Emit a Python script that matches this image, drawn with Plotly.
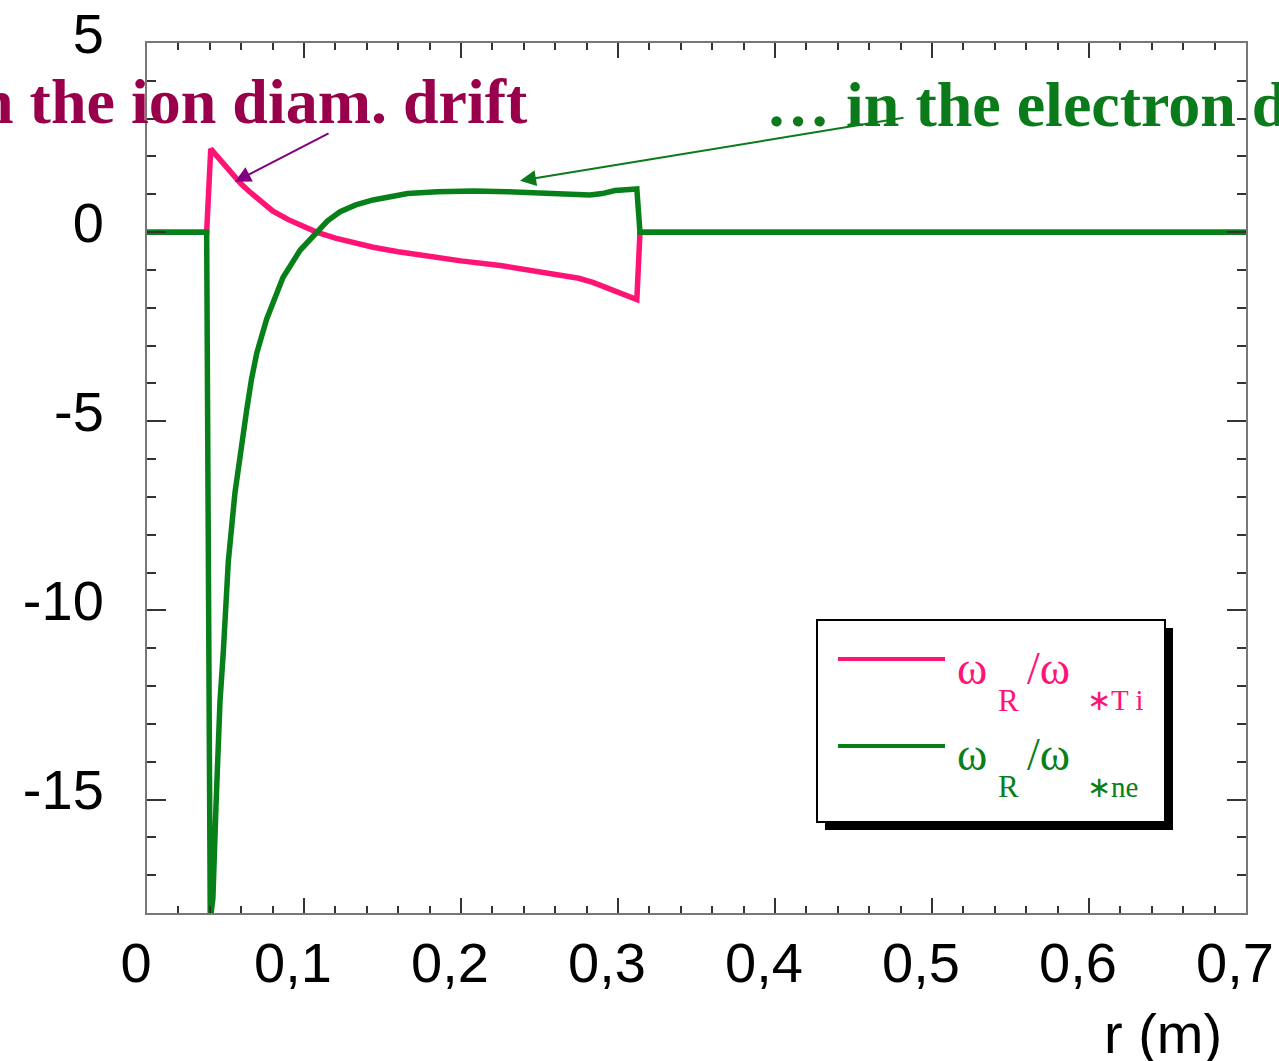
import plotly.graph_objects as go

# ---------------- data ----------------
r_ti = [0, 0.038, 0.0406, 0.045, 0.05, 0.055, 0.06, 0.065, 0.07, 0.075, 0.08, 0.09,
        0.1, 0.108, 0.12, 0.13, 0.144, 0.16, 0.175, 0.187, 0.2, 0.225, 0.25, 0.263,
        0.275, 0.284, 0.295, 0.305, 0.312, 0.314, 0.7]
w_ti = [0, 0, 2.2, 1.98, 1.74, 1.5, 1.27, 1.08, 0.9, 0.72, 0.56, 0.33,
        0.14, 0.0, -0.16, -0.27, -0.40, -0.52, -0.61, -0.69, -0.76, -0.88, -1.04, -1.15,
        -1.22, -1.33, -1.52, -1.66, -1.78, 0, 0]

r_ne = [0, 0.038, 0.0403, 0.042, 0.044, 0.0465, 0.0486, 0.0518, 0.056, 0.0592, 0.0635,
        0.0665, 0.0699, 0.0762, 0.081, 0.0866, 0.0975, 0.108, 0.115, 0.123, 0.133, 0.144,
        0.155, 0.166, 0.185, 0.208, 0.23, 0.25, 0.265, 0.282, 0.29, 0.298, 0.305, 0.312,
        0.314, 0.7]
w_ne = [0, 0, -18.2, -17.6, -15.1, -12.4, -11.1, -8.7, -6.9, -5.9, -4.7,
        -3.9, -3.2, -2.3, -1.75, -1.2, -0.48, 0.0, 0.3, 0.54, 0.72, 0.85,
        0.95, 1.02, 1.07, 1.09, 1.07, 1.04, 1.03, 0.98, 1.02, 1.1, 1.12, 1.14,
        0, 0]

x_tickvals = [0, 0.1, 0.2, 0.3, 0.4, 0.5, 0.6, 0.7]
x_ticktext = ["0", "0,1", "0,2", "0,3", "0,4", "0,5", "0,6", "0,7"]
y_tickvals = [5, 0, -5, -10, -15]
y_ticktext = ["5", "0", "-5", "-10", "-15"]

# annotation arrows (data coords): tip and tail
ion_arrow_tip, ion_arrow_tail = (0.056, 1.33), (0.1166, 2.63)
ele_arrow_tip, ele_arrow_tail = (0.2376, 1.36), (0.4828, 3.03)

PINK = "#FF1476"
GREEN = "#08801A"
TXT_PINK = "#99004C"
TXT_GREEN = "#0A7A1A"

# ---------------- figure ----------------
L, T, W, H = 147, 43, 1099, 870


def px(x):
    return (x - L) / W


def py(y):
    return (T + H - y) / H


fig = go.Figure()
fig.add_trace(go.Scatter(x=r_ti, y=w_ti, mode="lines", line=dict(color=PINK, width=5.5),
                         showlegend=False))
fig.add_trace(go.Scatter(x=r_ne, y=w_ne, mode="lines", line=dict(color=GREEN, width=5.5),
                         showlegend=False))

tickfont = dict(family="Liberation Sans, Arial", size=56, color="black")
fig.update_xaxes(range=[0, 0.7], tickmode="array", tickvals=x_tickvals, ticktext=x_ticktext,
                 ticks="inside", ticklen=15, tickwidth=2, tickcolor="#333",
                 minor=dict(ticks="inside", dtick=0.02, tick0=0, ticklen=7, tickwidth=1.5,
                            tickcolor="#333", showgrid=False),
                 showline=True, linecolor="#777", linewidth=2, mirror="allticks",
                 showgrid=False, zeroline=False, tickfont=tickfont, automargin=False,
                 ticklabelshift=-11, ticklabelstandoff=0)
fig.update_yaxes(range=[-18, 5], tickmode="array", tickvals=y_tickvals, ticktext=y_ticktext,
                 ticks="inside", ticklen=19, tickwidth=2, tickcolor="#333",
                 minor=dict(ticks="inside", dtick=1, tick0=0, ticklen=9, tickwidth=1.5,
                            tickcolor="#333", showgrid=False),
                 showline=True, linecolor="#777", linewidth=2, mirror="allticks",
                 showgrid=False, zeroline=False, tickfont=tickfont, automargin=False,
                 ticklabelshift=-10, ticklabelstandoff=30)

serif_b = "Liberation Serif, Times New Roman"
ann = []
ann.append(dict(xref="paper", yref="paper", x=px(530), y=py(102), xanchor="right",
                yanchor="middle", showarrow=False,
                text="<b>Rotation in the ion diam. drift</b>",
                font=dict(family=serif_b, size=64, color=TXT_PINK)))
ann.append(dict(xref="paper", yref="paper", x=px(764), y=py(104), xanchor="left",
                yanchor="middle", showarrow=False,
                text="<b>\u2026 in the electron diam. drift</b>",
                font=dict(family=serif_b, size=64, color=TXT_GREEN)))
ann.append(dict(xref="x", yref="y", axref="x", ayref="y",
                x=ion_arrow_tip[0], y=ion_arrow_tip[1],
                ax=ion_arrow_tail[0], ay=ion_arrow_tail[1],
                text="", showarrow=True, arrowhead=2, arrowsize=1.6, arrowwidth=2,
                arrowcolor="#800080", standoff=0, startstandoff=0))
ann.append(dict(xref="x", yref="y", axref="x", ayref="y",
                x=ele_arrow_tip[0], y=ele_arrow_tip[1],
                ax=ele_arrow_tail[0], ay=ele_arrow_tail[1],
                text="", showarrow=True, arrowhead=2, arrowsize=1.6, arrowwidth=2,
                arrowcolor=TXT_GREEN, standoff=0, startstandoff=0))
ann.append(dict(xref="paper", yref="paper", x=px(1224), y=py(1033), xanchor="right",
                yanchor="middle", showarrow=False, text="r (m)", font=tickfont))

# legend (custom box)
shapes = []
shapes.append(dict(type="rect", xref="paper", yref="paper", x0=px(825), x1=px(1173),
                   y0=py(830), y1=py(628), fillcolor="black", line=dict(width=0)))
shapes.append(dict(type="rect", xref="paper", yref="paper", x0=px(817), x1=px(1165),
                   y0=py(822), y1=py(620), fillcolor="white",
                   line=dict(color="black", width=2)))
for color, yl in [(PINK, 659), (GREEN, 746)]:
    shapes.append(dict(type="line", xref="paper", yref="paper", x0=px(838), x1=px(945),
                       y0=py(yl), y1=py(yl), line=dict(color=color, width=4)))

serif = "Liberation Serif, Times New Roman"
for color, base, sub2 in [(PINK, 0, "\u2217T i"), (GREEN, 87, "\u2217ne")]:
    ann.append(dict(xref="paper", yref="paper", x=px(955), y=py(668 + base), xanchor="left",
                    yanchor="middle", showarrow=False, text="\u03c9",
                    font=dict(family=serif, size=46, color=color)))
    ann.append(dict(xref="paper", yref="paper", x=px(996), y=py(700 + base), xanchor="left",
                    yanchor="middle", showarrow=False, text="R",
                    font=dict(family=serif, size=31, color=color)))
    ann.append(dict(xref="paper", yref="paper", x=px(1025), y=py(668 + base), xanchor="left",
                    yanchor="middle", showarrow=False, text="/\u03c9",
                    font=dict(family=serif, size=46, color=color)))
    ann.append(dict(xref="paper", yref="paper", x=px(1085), y=py(700 + base), xanchor="left",
                    yanchor="middle", showarrow=False, text=sub2,
                    font=dict(family=serif, size=29, color=color)))

fig.update_layout(width=1279, height=1061,
                  margin=dict(l=L, r=1279 - L - W, t=T, b=1061 - T - H, autoexpand=False),
                  plot_bgcolor="white", paper_bgcolor="white", showlegend=False,
                  annotations=ann, shapes=shapes)

fig.write_html("out.html")
